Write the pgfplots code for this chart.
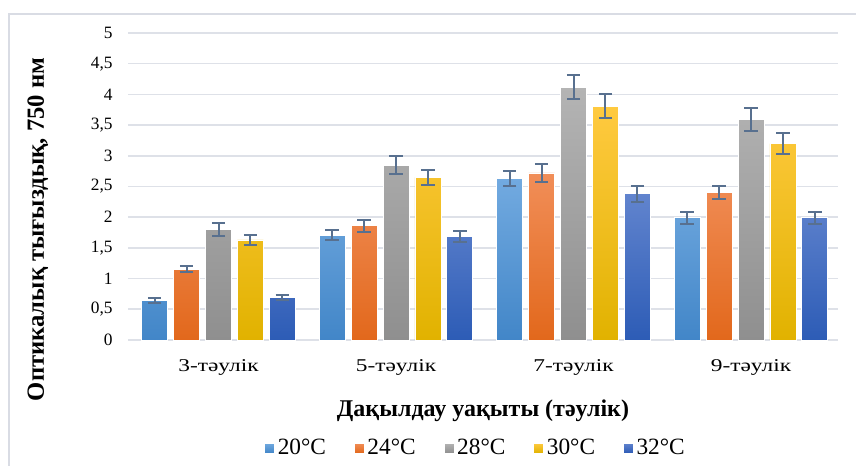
\documentclass[border=0pt]{standalone}
\usepackage{fontspec}
\setmainfont{Liberation Serif}
\newfontfamily\widefont{Liberation Serif}[FakeStretch=1.3]
\usepackage{pgfplots}
\usepackage{pgfplotstable}
\pgfplotsset{compat=1.18}

\definecolor{gridc}{RGB}{222,225,232}
\definecolor{framec}{RGB}{217,220,228}
\definecolor{errc}{RGB}{88,112,143}
\definecolor{bAt}{RGB}{114,170,224}\definecolor{bAb}{RGB}{66,134,200}
\definecolor{bBt}{RGB}{241,142,88}\definecolor{bBm}{RGB}{243,124,40}\definecolor{bBb}{RGB}{226,104,28}
\definecolor{bCt}{RGB}{180,180,180}\definecolor{bCb}{RGB}{143,143,143}
\definecolor{bDt}{RGB}{255,202,64}\definecolor{bDm}{RGB}{255,193,0}\definecolor{bDb}{RGB}{225,178,0}
\definecolor{bEt}{RGB}{97,132,206}\definecolor{bEb}{RGB}{45,92,182}

% day  value  error for each temperature
\pgfplotstableread{
x  t20  e20  t24  e24  t28  e28  t30  e30  t32  e32
0  0.65 0.04 1.15 0.05 1.80 0.10 1.63 0.08 0.69 0.04
1  1.71 0.08 1.86 0.10 2.85 0.15 2.65 0.12 1.69 0.09
2  2.63 0.13 2.72 0.14 4.12 0.20 3.81 0.19 2.38 0.13
3  1.99 0.10 2.40 0.11 3.59 0.19 3.20 0.17 1.99 0.10
}\growth

\pgfplotsset{
  errbar/.style={
    error bars/.cd, y dir=both, y explicit,
    error bar style={line width=1.5pt, color=errc},
    error mark options={rotate=90, mark size=5pt, line width=1.5pt, color=errc}},
}

\begin{document}
\begin{tikzpicture}
\path[use as bounding box] (-96pt,-94.5pt) rectangle (546pt,255pt);
\begin{axis}[
  at={(0,0)}, anchor=south west,
  scale only axis, width=532.5pt, height=230.25pt,
  ybar, bar width=19.5pt,
  xmin=-0.51, xmax=3.49, ymin=0, ymax=5,
  ytick distance=0.5,
  ymajorgrids, grid style={gridc, line width=1.2pt},
  axis line style={draw=none},
  major tick length=0pt,
  xtick={0,1,2,3},
  xticklabels={3-тәулік,5-тәулік,7-тәулік,9-тәулік},
  ticklabel style={font=\fontsize{13}{15}\selectfont},
  xticklabel style={yshift=-11pt, font=\widefont\fontsize{13.5}{15}\selectfont},
  yticklabel style={xshift=-8pt},
  /pgf/number format/.cd, use comma, assume math mode=true, /pgfplots/.cd,
  clip=false,
  xlabel={Дақылдау уақыты (тәулік)},
  xlabel style={at={(axis description cs:0.5,-0.231)}, anchor=center,
    font=\bfseries\fontsize{18}{21}\selectfont},
  ylabel={Оптикалық тығыздық, 750 нм},
  ylabel style={at={(axis description cs:-0.127,0.36)}, anchor=center,
    font=\bfseries\fontsize{18.5}{21}\selectfont},
  legend style={at={(axis description cs:0.49,-0.352)}, anchor=center,
    draw=none, fill=none, legend columns=-1,
    font=\fontsize{17.5}{20}\selectfont,
    /tikz/every even column/.append style={column sep=19pt}},
  legend image code/.code={\fill[#1] (0pt,-3.75pt) rectangle (7.5pt,3.75pt);},
  every axis plot/.append style={draw=white, line width=0.6pt},
]
\addplot[bar shift=-47.9pt, top color=bAt, bottom color=bAb, errbar]
  table[x=x, y=t20, y error=e20] {\growth};
\addplot[bar shift=-23.96pt, top color=bBt, middle color=bBm, bottom color=bBb, errbar]
  table[x=x, y=t24, y error=e24] {\growth};
\addplot[bar shift=0pt, top color=bCt, bottom color=bCb, errbar]
  table[x=x, y=t28, y error=e28] {\growth};
\addplot[bar shift=23.96pt, top color=bDt, middle color=bDm, bottom color=bDb, errbar]
  table[x=x, y=t30, y error=e30] {\growth};
\addplot[bar shift=47.9pt, top color=bEt, bottom color=bEb, errbar]
  table[x=x, y=t32, y error=e32] {\growth};
\legend{20°C, 24°C, 28°C, 30°C, 32°C}
\end{axis}
\draw[framec, line width=1.5pt] (-89.25pt,-94.5pt) -- (-89.25pt,244.5pt) -- (546pt,244.5pt);
\end{tikzpicture}
\end{document}
